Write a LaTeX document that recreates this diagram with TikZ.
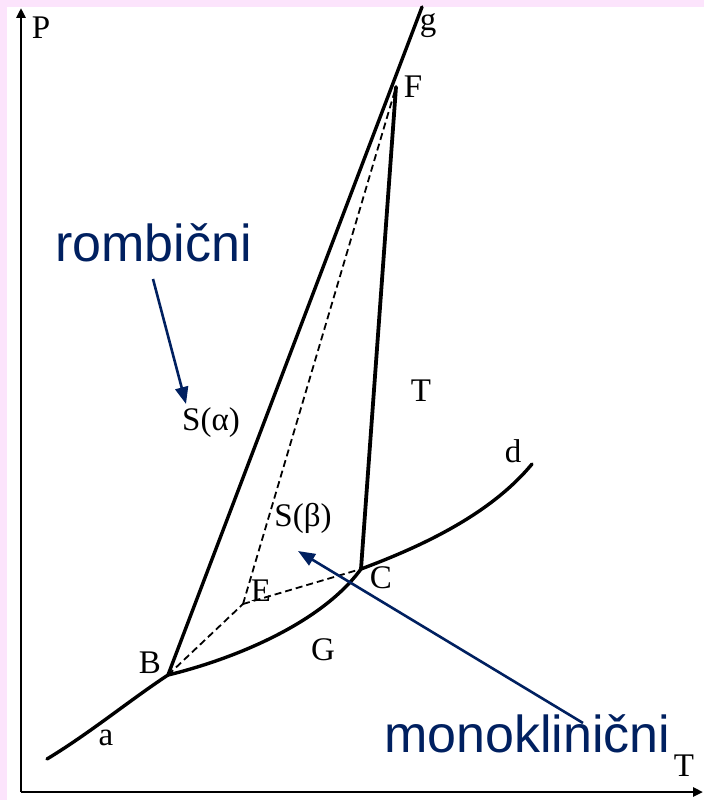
\documentclass[tikz,border=0pt]{standalone}
\usepackage{fontspec}
\setmainfont{Liberation Serif}
\newfontfamily\arialf{Liberation Sans}
\usetikzlibrary{arrows.meta}
\definecolor{bgpink}{RGB}{252,228,252}
\definecolor{navyb}{RGB}{0,32,96}
\tikzset{
  thickline/.style={line width=3.4pt, line cap=round, line join=round},
  dashline/.style={line width=1.8pt, dash pattern=on 7pt off 4pt},
  axis/.style={line width=2.5pt, -{Triangle[length=10pt,width=9pt]}},
  bluearrow/.style={navyb, line width=2.6pt, -{Triangle[length=17pt,width=13pt]}},
  lbl/.style={inner sep=0pt, font=\fontsize{33}{38}\selectfont},
  bluelbl/.style={inner sep=0pt, text=navyb, font=\arialf\fontsize{52}{60}\selectfont, anchor=base west}
}
\begin{document}
\begin{tikzpicture}[x=1pt,y=-1pt]
\useasboundingbox (0,0) rectangle (704,800);
\fill[bgpink] (0,0) rectangle (704,800);
\fill[white] (7,7) rectangle (704,800);
% axes
\coordinate (O) at (21,792);
\coordinate (Ptop) at (21,8);
\coordinate (Tend) at (703,792);
\draw[axis] (O) -- (Ptop);
\draw[axis] (O) -- (Tend);
% points
\coordinate (A) at (47,759);
\coordinate (B) at (168,675);
\coordinate (C) at (361,569);
\coordinate (D) at (532,464);
\coordinate (E) at (243,604);
\coordinate (F) at (396,87);
\coordinate (Gtop) at (422,7);
% solid lines
\draw[thickline] (A) .. controls (90,733) and (130,700) .. (B);
\draw[thickline] (B) .. controls (230,660) and (320,625) .. (C);
\draw[thickline] (C) .. controls (420,547) and (490,515) .. (D);
\draw[thickline] (B) -- (Gtop);
\draw[line width=3.8pt, line cap=round] (C) -- (F);
% dashed lines
\draw[dashline] (B) -- (E);
\draw[dashline] (E) -- (C);
\draw[dashline] (E) -- (F);
% labels
\node[lbl] (lP) at (41,28) {P};
\node[lbl] (lg) at (428,26) {g};
\node[lbl] (lF) at (413,87) {F};
\node[lbl] (lSa) at (211,423) {S(α)};
\node[lbl] (lT) at (421,391) {T};
\node[lbl] (ld) at (513,451) {d};
\node[lbl] (lSb) at (303,518) {S(β)};
\node[lbl] (lE) at (261,591) {E};
\node[lbl] (lC) at (381,578) {C};
\node[lbl] (lB) at (150,663) {B};
\node[lbl] (lG) at (323,650) {G};
\node[lbl] (la) at (106,738) {a};
\node[lbl] (lTax) at (684,766) {T};
% blue labels
\node[bluelbl] (rom) at (55,261) {rombični};
\node[bluelbl] (mono) at (384,752) {monoklinični};
\coordinate (r1) at (153,279);
\coordinate (r2) at (186,404);
\coordinate (m1) at (583,723);
\coordinate (m2) at (298,551);
\draw[bluearrow] (r1) -- (r2);
\draw[bluearrow] (m1) -- (m2);
\end{tikzpicture}
\end{document}
